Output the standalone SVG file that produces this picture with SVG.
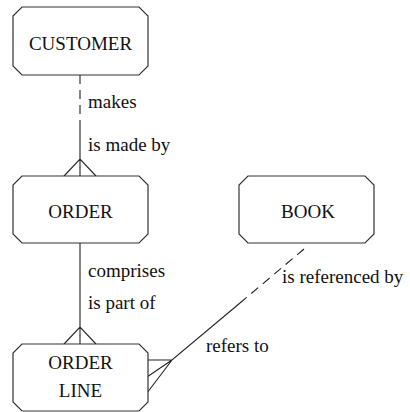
<svg xmlns="http://www.w3.org/2000/svg" width="410" height="412" viewBox="0 0 410 412">
<style>
.box{fill:#fff;stroke:#333;stroke-width:1.2}
.ln{fill:none;stroke:#222;stroke-width:1.1}
.dash{stroke-dasharray:9 6}
.c{text-anchor:middle}
</style>
<rect width="410" height="412" fill="#fff"/>
<g font-family="Liberation Serif, DejaVu Serif, serif" font-size="19" fill="#111">
<g id="connectors">
<path class="ln dash" d="M80,75 V124"/>
<path class="ln" d="M80,124 V176 M64,176 L80,159 L96,176"/>
<path class="ln" d="M80,243 V344 M64,344 L80,327 L96,344"/>
<path class="ln dash" d="M304,249 L240,303"/>
<path class="ln" d="M240,303 L172,360 L147,360 M172,360 L147,377 M172,360 L147,393"/>
<text x="88" y="108">makes</text>
<text x="88" y="151">is made by</text>
<text x="88" y="277">comprises</text>
<text x="88" y="309">is part of</text>
<text x="282" y="283">is referenced by</text>
<text x="206" y="352">refers to</text>
</g>
<g id="customer">
<path class="box" d="M22,7 H139 L148,16 V66 L139,75 H22 L13,66 V16 Z"/>
<text class="c" x="80.5" y="50">CUSTOMER</text>
</g>
<g id="order">
<path class="box" d="M22,176 H139 L148,185 V234 L139,243 H22 L13,234 V185 Z"/>
<text class="c" x="80.5" y="218">ORDER</text>
</g>
<g id="book">
<path class="box" d="M248,176 H365 L374,185 V234 L365,243 H248 L239,234 V185 Z"/>
<text class="c" x="308" y="218">BOOK</text>
</g>
<g id="orderline">
<path class="box" d="M22,344 H139 L148,353 V402 L139,411 H22 L13,402 V353 Z"/>
<text class="c" x="80.5" y="369">ORDER</text>
<text class="c" x="80.5" y="397">LINE</text>
</g>
</g>
</svg>
